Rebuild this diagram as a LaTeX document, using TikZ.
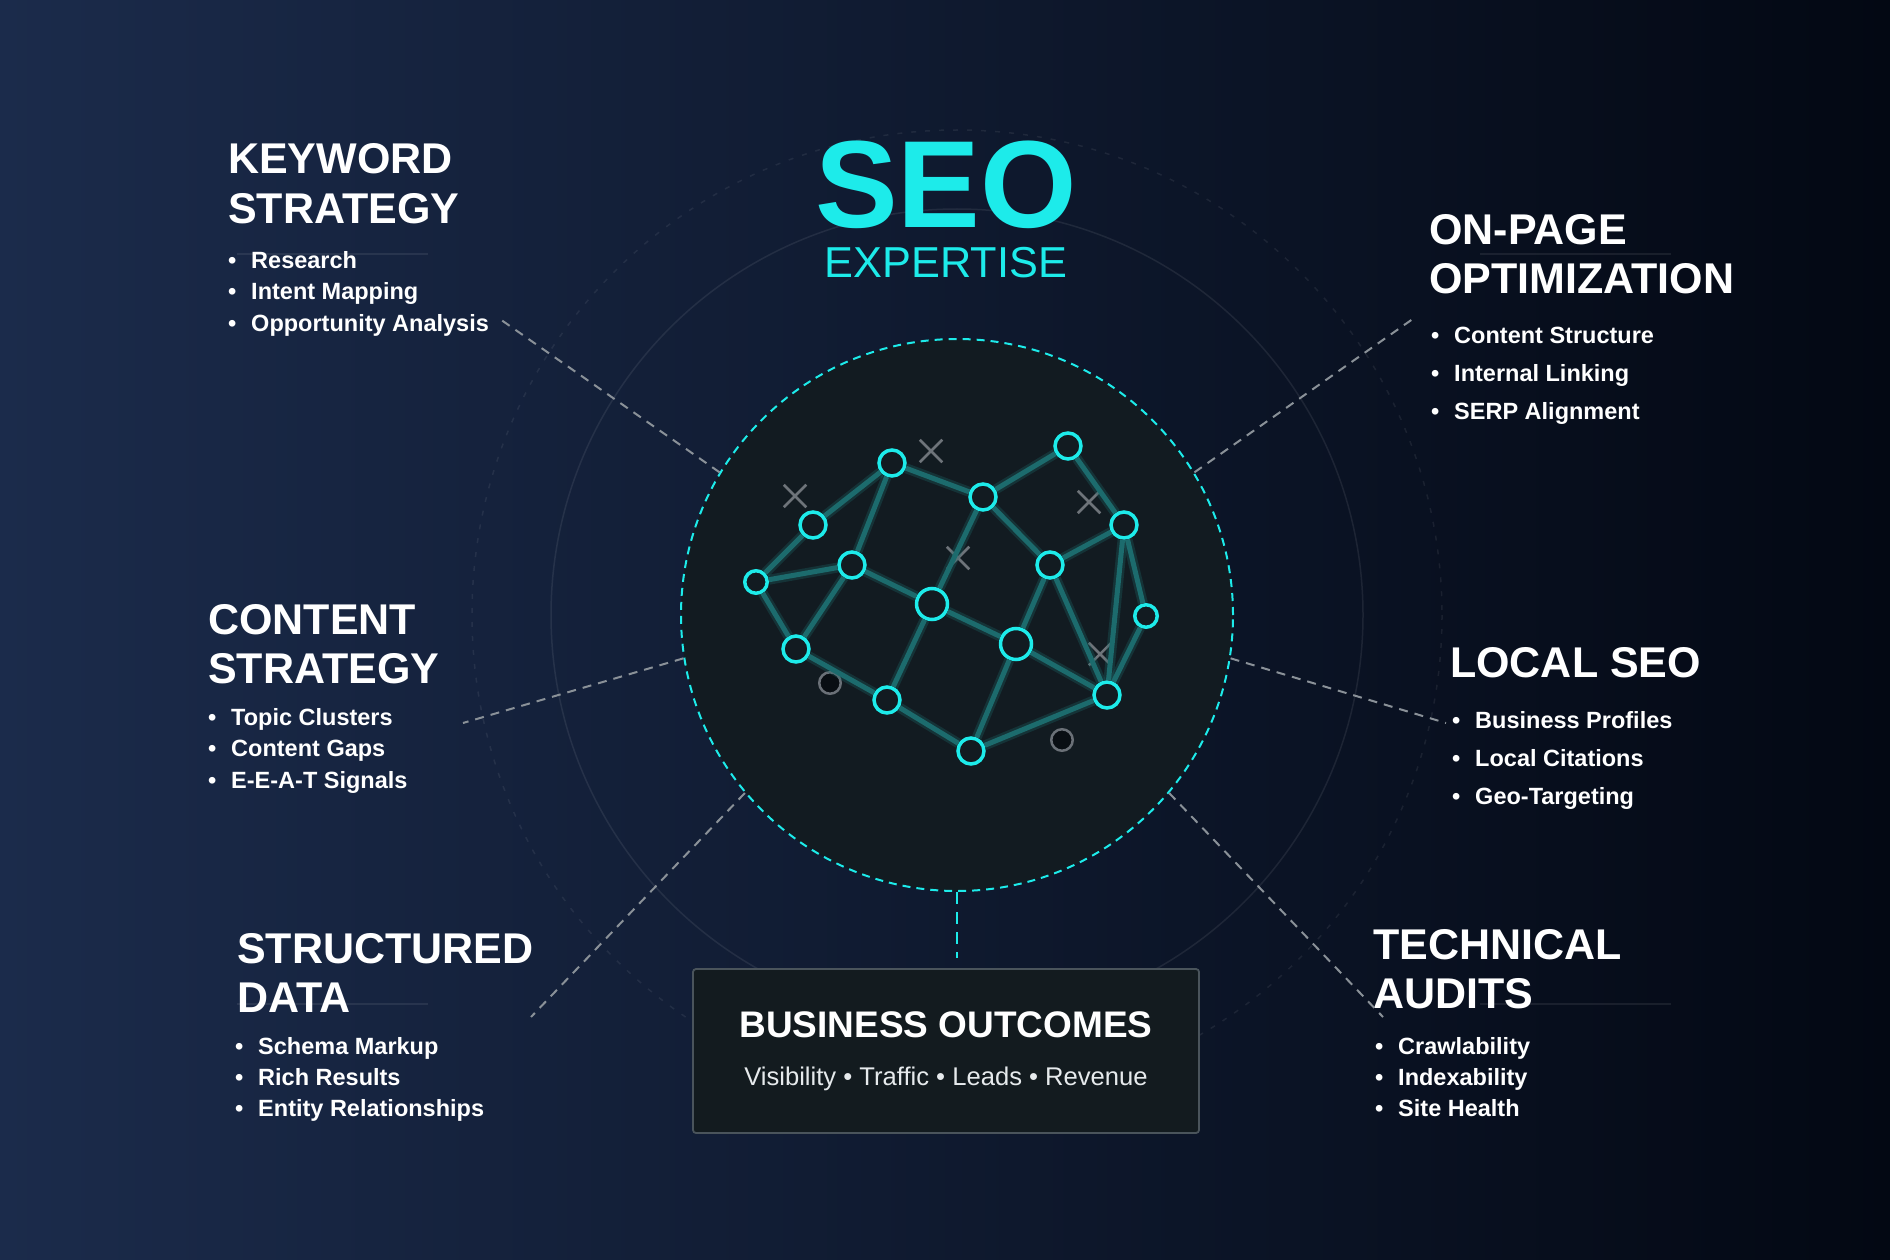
\documentclass[tikz,border=0pt]{standalone}
\usepackage{fontspec}
\setmainfont{Liberation Sans}
\usetikzlibrary{shapes.misc}
\definecolor{bgleft}{HTML}{1B2B4B}
\definecolor{bgmid}{HTML}{0E1934}
\definecolor{bgright}{HTML}{030813}
\definecolor{seocyan}{HTML}{1DEBEA}
\definecolor{hubfill}{HTML}{121B21}
\definecolor{linkteal}{HTML}{1C6B6D}
\definecolor{idlegray}{HTML}{6A7077}
\definecolor{idlefill}{HTML}{090E13}
\definecolor{crossgray}{HTML}{6E747A}
\definecolor{spokegray}{HTML}{8A9198}
\definecolor{boxfill}{HTML}{131B1F}
\definecolor{boxline}{HTML}{4A545B}
\definecolor{softwhite}{HTML}{E6EAEC}
\newcommand{\headfont}{\fontsize{43}{49}\selectfont\bfseries}
\newcommand{\itemfont}{\fontsize{23.5}{28}\selectfont\bfseries}
\tikzset{
  net node/.style={
    circle,
    draw=seocyan,
    line width=3.5pt,
    fill=hubfill,
    minimum size=26pt,
    inner sep=0pt,
  },
  big net node/.style={
    net node,
    minimum size=31pt,
  },
  small net node/.style={
    net node,
    minimum size=22.5pt,
  },
  idle node/.style={
    circle,
    draw=idlegray,
    line width=2.5pt,
    fill=idlefill,
    minimum size=21.5pt,
    inner sep=0pt,
  },
  cross mark/.style={
    cross out,
    draw=crossgray,
    line width=2.5pt,
    minimum size=20pt,
    inner sep=0pt,
  },
  link glow/.style={
    linkteal,
    line width=10pt,
    opacity=0.3,
  },
  net link/.style={
    linkteal,
    line width=5pt,
  },
  hub/.style={
    circle,
    draw=seocyan,
    line width=2pt,
    dash pattern=on 8pt off 6pt,
    fill=hubfill,
    minimum size=552pt,
    inner sep=0pt,
  },
  spoke/.style={
    spokegray,
    line width=2pt,
    dash pattern=on 9pt off 7pt,
  },
  heading/.style={
    font=\headfont,
    text=white,
    align=left,
    anchor=base west,
    inner sep=0pt,
  },
  item/.style={
    font=\itemfont,
    text=white,
    anchor=base west,
    inner sep=0pt,
  },
  outcome box/.style={
    rectangle,
    draw=boxline,
    line width=1.8pt,
    fill=boxfill,
    rounded corners=3pt,
    minimum width=506pt,
    minimum height=164pt,
    inner sep=0pt,
  },
}

\begin{document}
\begin{tikzpicture}[x=1pt, y=-1pt]

  % --- Background ---
  \useasboundingbox (0,0) rectangle (1890,1260);
  \shade[left color=bgleft, middle color=bgmid, right color=bgright] (0,0) rectangle (1890,1260);

  % --- Faint rings and rules ---
  \draw[white, opacity=0.08, line width=1.5pt] (957,615) circle[radius=406];
  \draw[white, opacity=0.07, line width=1.5pt, dash pattern=on 5pt off 9pt] (957,615) circle[radius=485];
  \foreach \ry in {254,1004} {
    \draw[white, opacity=0.08, line width=1.5pt] (237,\ry) -- (428,\ry);
    \draw[white, opacity=0.08, line width=1.5pt] (1480,\ry) -- (1671,\ry);
  }

  % --- Title ---
  \node[anchor=base, inner sep=0pt, text depth=0pt, text=seocyan, font=\fontsize{124}{124}\selectfont\bfseries] (seo) at (946,228) {SEO};
  \node[anchor=base, inner sep=0pt, text=seocyan, font=\fontsize{43.3}{44}\selectfont] (expertise) at (946,277.7) {EXPERTISE};

  % --- Hub ---
  \node[hub] (hub) at (957,615) {};

  % --- Network nodes ---
  \node[net node] (n1) at (892,463) {};
  \node[net node] (n2) at (983,497) {};
  \node[net node] (n3) at (1068,446) {};
  \node[net node] (n4) at (813,525) {};
  \node[net node] (n5) at (1124,525) {};
  \node[small net node] (n6) at (756,582) {};
  \node[net node] (n7) at (852,565) {};
  \node[net node] (n8) at (1050,565) {};
  \node[big net node] (n9) at (932,604) {};
  \node[small net node] (n10) at (1146,616) {};
  \node[net node] (n11) at (796,649) {};
  \node[big net node] (n12) at (1016,644) {};
  \node[net node] (n13) at (887,700) {};
  \node[net node] (n14) at (1107,695) {};
  \node[net node] (n15) at (971,751) {};

  \node[idle node] (g1) at (830,683) {};
  \node[idle node] (g2) at (1062,740) {};

  \node[cross mark] (x1) at (795,496) {};
  \node[cross mark] (x2) at (931,451) {};
  \node[cross mark] (x3) at (1089,502) {};
  \node[cross mark] (x4) at (958,558) {};
  \node[cross mark] (x5) at (1100,654) {};

  % --- Network links ---
  \foreach \a/\b in {4/1, 1/2, 1/7, 2/3, 2/9, 2/8, 3/5, 5/8, 5/10, 5/14,
                     4/6, 6/7, 6/11, 7/11, 7/9, 9/12, 9/13, 8/12, 8/14,
                     12/14, 12/15, 11/13, 13/15, 14/15, 10/14} {
    \draw[link glow] (n\a) -- (n\b);
    \draw[net link] (n\a) -- (n\b);
  }

  % --- Business outcomes ---
  \node[outcome box] (outcomes) at (946,1051) {};
  \node[anchor=base, inner sep=0pt, text=white, font=\fontsize{37}{40}\selectfont\bfseries] (outtitle) at (946,1037.7) {BUSINESS OUTCOMES};
  \node[anchor=base, inner sep=0pt, text=softwhite, font=\fontsize{25.6}{28}\selectfont] (outsub) at (946,1085) {Visibility • Traffic • Leads • Revenue};
  \draw[seocyan, line width=2.5pt, dash pattern=on 12pt off 8pt, shorten >=10pt] (hub.south) -- (hub.south |- outcomes.north);

  % --- Section headings (anchored on the last line) ---
  \node[heading] (kwhead) at (228,223) {KEYWORD\\STRATEGY};
  \node[heading] (ophead) at (1429,293) {ON-PAGE\\OPTIMIZATION};
  \node[heading] (cthead) at (208,683) {CONTENT\\STRATEGY};
  \node[heading] (lchead) at (1450,677) {LOCAL SEO};
  \node[heading] (sdhead) at (237,1012) {STRUCTURED\\DATA};
  \node[heading] (tahead) at (1373,1008) {TECHNICAL\\AUDITS};

  % --- Bullet items ---
  \foreach \txt [count=\k] in {Research, Intent Mapping, Opportunity Analysis}
    \node[item] (kw\k) at (228,{268+31.5*(\k-1)}) {•\hspace{0.63em}\txt};
  \foreach \txt [count=\k] in {Content Structure, Internal Linking, SERP Alignment}
    \node[item] (op\k) at (1431,{343+38*(\k-1)}) {•\hspace{0.63em}\txt};
  \foreach \txt [count=\k] in {Topic Clusters, Content Gaps, E-E-A-T Signals}
    \node[item] (ct\k) at (208,{725.5+31.4*(\k-1)}) {•\hspace{0.63em}\txt};
  \foreach \txt [count=\k] in {Business Profiles, Local Citations, Geo-Targeting}
    \node[item] (lc\k) at (1452,{728.3+38.3*(\k-1)}) {•\hspace{0.63em}\txt};
  \foreach \txt [count=\k] in {Schema Markup, Rich Results, Entity Relationships}
    \node[item] (sd\k) at (235,{1054+31.3*(\k-1)}) {•\hspace{0.63em}\txt};
  \foreach \txt [count=\k] in {Crawlability, Indexability, Site Health}
    \node[item] (ta\k) at (1375,{1054+31.3*(\k-1)}) {•\hspace{0.63em}\txt};

  % --- Spokes ---
  \coordinate (kwend) at (497,317);
  \coordinate (opend) at (1417,316);
  \coordinate (ctend) at (463,723);
  \coordinate (lcend) at (1446,723);
  \coordinate (sdend) at (531,1017);
  \coordinate (taend) at (1383,1017);
  \draw[spoke] (hub.149) -- (kwend);
  \draw[spoke] (hub.31) -- (opend);
  \draw[spoke] (hub.189) -- (ctend);
  \draw[spoke] (hub.351) -- (lcend);
  \draw[spoke] (hub.220) -- (sdend);
  \draw[spoke] (hub.320) -- (taend);

\end{tikzpicture}
\end{document}
